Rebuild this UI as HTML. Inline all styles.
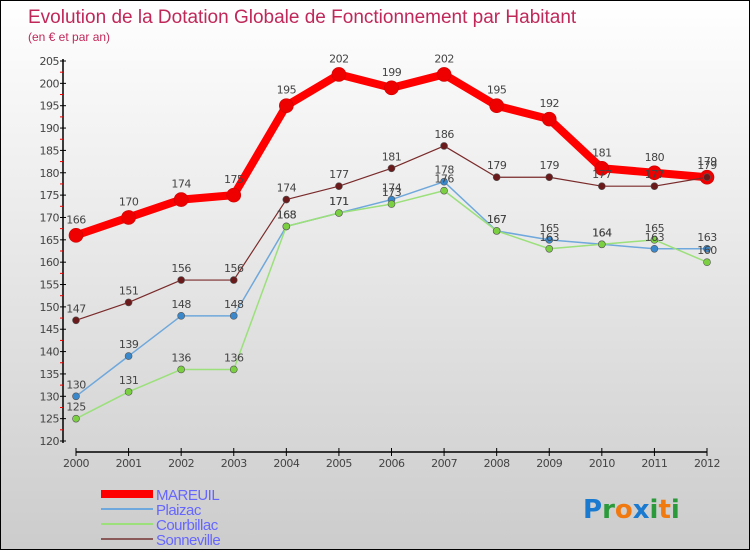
<!DOCTYPE html>
<html><head><meta charset="utf-8"><style>
body{margin:0}
#c{width:750px;height:550px;position:relative;overflow:hidden;box-sizing:border-box;border:1px solid #000;background:linear-gradient(#fff,#ccc);font-family:"DejaVu Sans","Liberation Sans",sans-serif}
</style></head><body>
<div id="c">
<svg id="s" width="750" height="550" style="position:absolute;left:0;top:0">
<text x="27" y="22" font-size="19" fill="#c0285a" font-family="Liberation Sans">Evolution de la Dotation Globale de Fonctionnement par Habitant</text>
<text x="27" y="40" font-size="12" fill="#c0285a" font-family="Liberation Sans">(en € et par an)</text>
</svg>
</div>
<script>
const years=[2000,2001,2002,2003,2004,2005,2006,2007,2008,2009,2010,2011,2012];
const mareuil=[166,170,174,175,195,202,199,202,195,192,181,180,179];
const plaizac=[130,139,148,148,168,171,174,178,167,165,164,163,163];
const courbillac=[125,131,136,136,168,171,173,176,167,163,164,165,160];
const sonneville=[147,151,156,156,174,177,181,186,179,179,177,177,179];
const yTicks=[120,125,130,135,140,145,150,155,160,165,170,175,180,185,190,195,200,205];
const s=document.getElementById('s');const NS='http://www.w3.org/2000/svg';
function X(i){return 75+i*(706-75)/12;}
function Y(v){return 440-(v-120)*(380/85);}
function el(t,a,p){const e=document.createElementNS(NS,t);for(const k in a)e.setAttribute(k,a[k]);(p||s).appendChild(e);return e;}
const ya=el('line',{x1:62,y1:58,x2:62,y2:442,stroke:'#000','stroke-width':1.5});


const xa=el('line',{x1:75,y1:451,x2:706,y2:451,stroke:'#000','stroke-width':1.5});


yTicks.forEach(v=>{
 el('line',{x1:59,y1:Y(v),x2:65,y2:Y(v),stroke:'#000'});
 if(v<205)el('line',{x1:59,y1:Y(v+2.5),x2:62,y2:Y(v+2.5),stroke:'#e00'});
 const t=el('text',{x:58,y:Y(v)+4,'text-anchor':'end','font-size':11,fill:'#444','letter-spacing':'-0.5'});t.textContent=v;
 
 
});
years.forEach((y,i)=>{
 el('line',{x1:X(i),y1:447,x2:X(i),y2:455,stroke:'#000'});
 const t=el('text',{x:X(i),y:466,'text-anchor':'middle','font-size':11,fill:'#444','letter-spacing':'-0.5'});t.textContent=y;
 
 
});
const series=[
 {n:'mareuil',d:mareuil,c:'#f00',w:8,r:7,dc:'#e00'},
 {n:'plaizac',d:plaizac,c:'#6fa8dc',w:1.5,r:3.5,dc:'#3a88cc'},
 {n:'courbillac',d:courbillac,c:'#9be07a',w:1.5,r:3.5,dc:'#7ad040'},
 {n:'sonneville',d:sonneville,c:'#7a2a2a',w:1.2,r:3.5,dc:'#6a1a1a'}];
series.forEach(o=>{
 const p=el('polyline',{points:o.d.map((v,i)=>X(i)+','+Y(v)).join(' '),fill:'none',stroke:o.c,'stroke-width':o.w,'stroke-linejoin':'round'});
 
 
 o.d.forEach((v,i)=>{
  const c=el('circle',{cx:X(i),cy:Y(v),r:o.r,fill:o.dc,stroke:o.n=='mareuil'?'#c00':'#555','stroke-width':0.6});
  
  
 });
});
series.forEach(o=>{o.d.forEach((v,i)=>{
 const t=el('text',{x:X(i),y:Y(v)-(o.n=='mareuil'?12:8),'text-anchor':'middle','font-size':11,fill:'#444','letter-spacing':'-0.5'});t.textContent=v;
 
 
});});
const leg=[['MAREUIL','#f00',8],['Plaizac','#6fa8dc',2],['Courbillac','#9be07a',2],['Sonneville','#8a5a5a',2]];
leg.forEach((l,i)=>{
 const y=493+i*15;
 el('line',{x1:100,y1:y,x2:152,y2:y,stroke:l[1],'stroke-width':l[2]});
 const t=el('text',{x:155,y:y+6,'font-size':15,fill:'#6666ff','font-family':'Liberation Sans','letter-spacing':'-0.5'});t.textContent=l[0];
 
 
});
const lg=el('text',{x:582,y:517,'font-size':26,'font-weight':'bold'});


[['P','#1a7ad0'],['r','#2a9a3a'],['o','#f07a10'],['x','#1a7ad0'],['i','#2a9a3a'],['t','#f07a10'],['i','#2a9a3a']].forEach(a=>{const sp=el('tspan',{fill:a[1]},lg);sp.textContent=a[0];});
</script>
</body></html>
